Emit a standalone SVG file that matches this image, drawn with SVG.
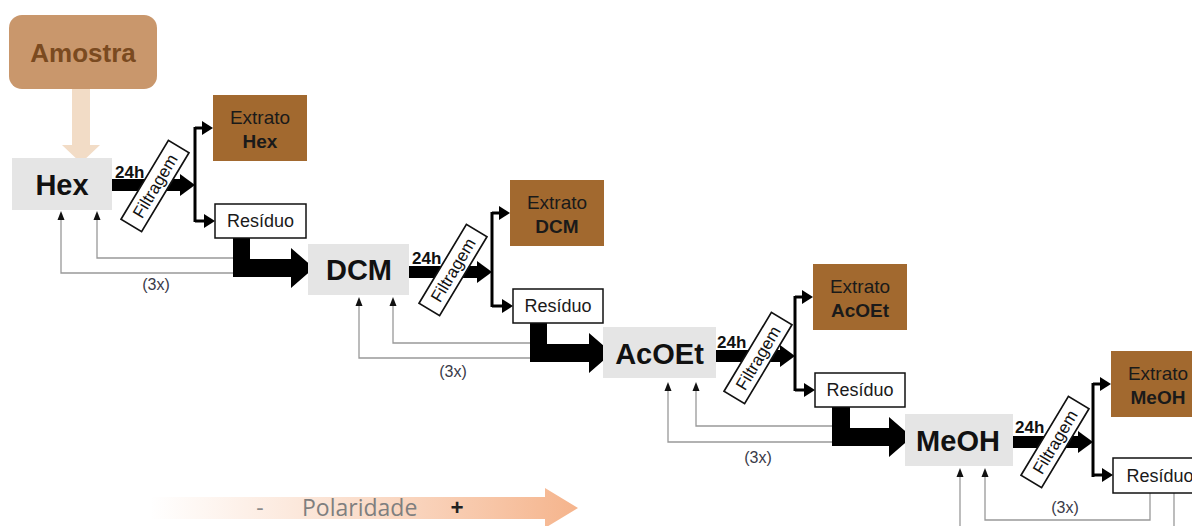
<svg xmlns="http://www.w3.org/2000/svg" width="1192" height="526" viewBox="0 0 1192 526">
<defs>
<linearGradient id="pol" gradientUnits="userSpaceOnUse" x1="150" y1="0" x2="578" y2="0">
<stop offset="0" stop-color="#f6bc98" stop-opacity="0"/>
<stop offset="0.35" stop-color="#f6bc98" stop-opacity="0.35"/>
<stop offset="1" stop-color="#f5b48c" stop-opacity="1"/>
</linearGradient>
<style>
.solv{fill:#e5e5e5}
.solvt{font-family:"Liberation Sans",Arial,sans-serif;font-weight:bold;font-size:29px;fill:#111;text-anchor:middle}
.ext{fill:#a2692f}
.extt{font-family:"Liberation Sans",Arial,sans-serif;font-size:19px;fill:#1a1a1a;text-anchor:middle}
.b{font-weight:bold}
.res{fill:#fff;stroke:#111;stroke-width:1.5}
.rest{font-family:"Liberation Sans",Arial,sans-serif;font-size:18px;fill:#1a1a1a;text-anchor:middle}
.filt{fill:#fff;stroke:#111;stroke-width:1.7}
.filtt{font-family:"Liberation Sans",Arial,sans-serif;font-size:17px;fill:#111;text-anchor:middle}
.h24{font-family:"Liberation Sans",Arial,sans-serif;font-weight:bold;font-size:17px;fill:#111}
.thick{fill:#000}
.br{stroke:#000;stroke-width:3;fill:none}
.fb{stroke:#999;stroke-width:1.3;fill:none}
.fbh{fill:#111}
.x3{font-family:"Liberation Sans",Arial,sans-serif;font-size:16px;fill:#3a3a48;text-anchor:middle}
</style>
</defs>
<rect width="1192" height="526" fill="#ffffff"/>

<!-- Polarity arrow -->
<g id="polaridade">
<polygon points="150,497 545,497 545,488 578,508 545,528 545,519 150,519" fill="url(#pol)"/>
<text x="260" y="516" font-family="'Open Sans',sans-serif" font-size="23" fill="#8a8a8a" text-anchor="middle">-</text>
<text x="302" y="516" font-family="'Open Sans',sans-serif" font-size="23" fill="#7f7f7f">Polaridade</text>
<text x="457" y="516" font-family="'Open Sans',sans-serif" font-size="23" fill="#222" text-anchor="middle" font-weight="bold">+</text>
</g>

<!-- Connectors -->
<g id="connectors">
<!-- Amostra to Hex -->
<polygon points="72,89 90,89 90,145 100,145 81,163 62,145 72,145" fill="#f2dcc6"/>

<!-- Hex stage -->
<rect class="thick" x="112" y="179" width="69" height="12"/>
<polygon class="thick" points="180,174 195,185 180,196"/>
<line class="br" x1="195" y1="127" x2="195" y2="222"/>
<line class="br" x1="195" y1="128" x2="205" y2="128"/>
<polygon class="thick" points="202,121 213,128 202,135"/>
<line class="br" x1="195" y1="221" x2="207" y2="221"/>
<polygon class="thick" points="204,214 215,221 204,228"/>
<polygon class="thick" points="233,238 250,238 250,259 291,259 291,248 314,268 291,288 291,277 233,277"/>
<polyline class="fb" points="233,258 97,258 97,218"/>
<polygon class="fbh" points="93.5,220 97,211 100.5,220"/>
<polyline class="fb" points="233,273 61,273 61,218"/>
<polygon class="fbh" points="57.5,220 61,211 64.5,220"/>

<!-- DCM stage -->
<rect class="thick" x="409" y="266" width="69" height="12"/>
<polygon class="thick" points="477,261 492,272 477,283"/>
<line class="br" x1="492" y1="212" x2="492" y2="307"/>
<line class="br" x1="492" y1="213" x2="502" y2="213"/>
<polygon class="thick" points="499,206 510,213 499,220"/>
<line class="br" x1="492" y1="306" x2="505" y2="306"/>
<polygon class="thick" points="502,299 513,306 502,313"/>
<polygon class="thick" points="530,323 547,323 547,344 589,344 589,333 612,353 589,373 589,362 530,362"/>
<polyline class="fb" points="530,343 393,343 393,304"/>
<polygon class="fbh" points="389.5,306 393,297 396.5,306"/>
<polyline class="fb" points="530,358 359,358 359,304"/>
<polygon class="fbh" points="355.5,306 359,297 362.5,306"/>

<!-- AcOEt stage -->
<rect class="thick" x="716" y="350" width="65" height="12"/>
<polygon class="thick" points="780,345 795,356 780,367"/>
<line class="br" x1="795" y1="296" x2="795" y2="391"/>
<line class="br" x1="795" y1="297" x2="805" y2="297"/>
<polygon class="thick" points="802,290 813,297 802,304"/>
<line class="br" x1="795" y1="390" x2="807" y2="390"/>
<polygon class="thick" points="804,383 815,390 804,397"/>
<polygon class="thick" points="832,407 850,407 850,428 889,428 889,417 912,437 889,457 889,446 832,446"/>
<polyline class="fb" points="832,426 696,426 696,389"/>
<polygon class="fbh" points="692.5,391 696,382 699.5,391"/>
<polyline class="fb" points="832,442 668,442 668,389"/>
<polygon class="fbh" points="664.5,391 668,382 671.5,391"/>

<!-- MeOH stage -->
<rect class="thick" x="1013" y="436" width="66" height="12"/>
<polygon class="thick" points="1078,431 1093,442 1078,453"/>
<line class="br" x1="1093" y1="383" x2="1093" y2="477"/>
<line class="br" x1="1093" y1="384" x2="1103" y2="384"/>
<polygon class="thick" points="1100,377 1111,384 1100,391"/>
<line class="br" x1="1093" y1="475" x2="1105" y2="475"/>
<polygon class="thick" points="1102,468 1113,475 1102,482"/>
<polyline class="fb" points="1150,493 1150,520 985,520 985,475"/>
<polygon class="fbh" points="981.5,477 985,468 988.5,477"/>
<polyline class="fb" points="1174,493 1174,527"/>
<polyline class="fb" points="960,527 960,475"/>
<polygon class="fbh" points="956.5,477 960,468 963.5,477"/>
</g>

<g id="amostra">
<rect x="9" y="15" width="148" height="74" rx="13" fill="#c9976c"/>
<text x="83" y="62" font-family="'Liberation Sans',Arial,sans-serif" font-weight="bold" font-size="26" fill="#7a4a20" text-anchor="middle">Amostra</text>
</g>

<!-- Hex -->
<g id="hex">
<rect class="solv" x="12" y="158" width="100" height="52"/>
<text class="solvt" x="62" y="195">Hex</text>
</g>
<g id="label-24h-hex"><text class="h24" x="115" y="178">24h</text></g>
<g id="filtragem-hex" transform="translate(155,186) rotate(-59)">
<rect class="filt" x="-46" y="-12" width="92" height="24"/>
<text class="filtt" x="0" y="6">Filtragem</text>
</g>
<g id="extrato-hex">
<rect class="ext" x="213" y="95" width="94" height="66"/>
<text class="extt" x="260" y="124">Extrato</text>
<text class="extt b" x="260" y="148">Hex</text>
</g>
<g id="residuo-hex">
<rect class="res" x="215" y="204" width="91" height="34"/>
<text class="rest" x="260.5" y="227">Resíduo</text>
</g>
<g id="x3-hex"><text class="x3" x="156" y="290">(3x)</text></g>

<!-- DCM -->
<g id="dcm">
<rect class="solv" x="308" y="244" width="101" height="51"/>
<text class="solvt" x="359" y="280">DCM</text>
</g>
<g id="label-24h-dcm"><text class="h24" x="412" y="264">24h</text></g>
<g id="filtragem-dcm" transform="translate(453,270) rotate(-59)">
<rect class="filt" x="-46" y="-12" width="92" height="24"/>
<text class="filtt" x="0" y="6">Filtragem</text>
</g>
<g id="extrato-dcm">
<rect class="ext" x="510" y="180" width="94" height="66"/>
<text class="extt" x="557" y="209">Extrato</text>
<text class="extt b" x="557" y="233">DCM</text>
</g>
<g id="residuo-dcm">
<rect class="res" x="513" y="289" width="90" height="34"/>
<text class="rest" x="558" y="312">Resíduo</text>
</g>
<g id="x3-dcm"><text class="x3" x="453" y="377">(3x)</text></g>

<!-- AcOEt -->
<g id="acoet">
<rect class="solv" x="603" y="327" width="113" height="51"/>
<text class="solvt" x="659.5" y="364">AcOEt</text>
</g>
<g id="label-24h-acoet"><text class="h24" x="717" y="348">24h</text></g>
<g id="filtragem-acoet" transform="translate(758,358) rotate(-59)">
<rect class="filt" x="-46" y="-12" width="92" height="24"/>
<text class="filtt" x="0" y="6">Filtragem</text>
</g>
<g id="extrato-acoet">
<rect class="ext" x="813" y="264" width="94" height="66"/>
<text class="extt" x="860" y="293">Extrato</text>
<text class="extt b" x="860" y="317">AcOEt</text>
</g>
<g id="residuo-acoet">
<rect class="res" x="815" y="373" width="90" height="34"/>
<text class="rest" x="860" y="396">Resíduo</text>
</g>
<g id="x3-acoet"><text class="x3" x="758" y="463">(3x)</text></g>

<!-- MeOH -->
<g id="meoh">
<rect class="solv" x="905" y="414" width="108" height="52"/>
<text class="solvt" x="958" y="451">MeOH</text>
</g>
<g id="label-24h-meoh"><text class="h24" x="1015" y="433">24h</text></g>
<g id="filtragem-meoh" transform="translate(1055,442) rotate(-59)">
<rect class="filt" x="-46" y="-12" width="92" height="24"/>
<text class="filtt" x="0" y="6">Filtragem</text>
</g>
<g id="extrato-meoh">
<rect class="ext" x="1111" y="351" width="94" height="66"/>
<text class="extt" x="1158" y="380">Extrato</text>
<text class="extt b" x="1158" y="404">MeOH</text>
</g>
<g id="residuo-meoh">
<rect class="res" x="1113" y="458" width="94" height="35"/>
<text class="rest" x="1160" y="482">Resíduo</text>
</g>
<g id="x3-meoh"><text class="x3" x="1065" y="513">(3x)</text></g>
</svg>
